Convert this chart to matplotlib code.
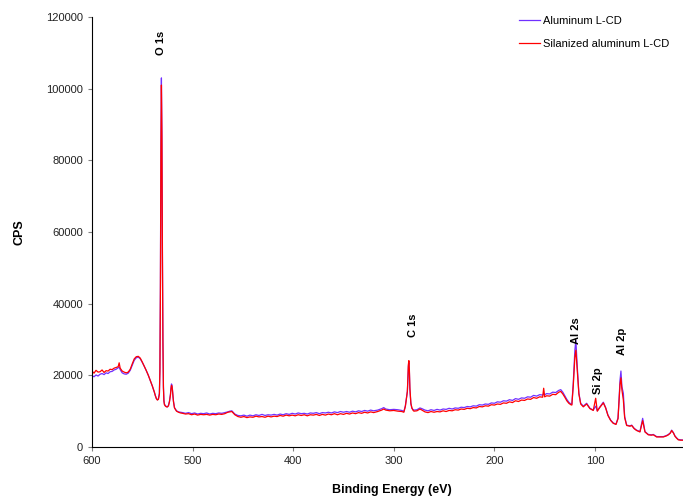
import matplotlib
matplotlib.use("Agg")
import matplotlib.pyplot as plt

plt.rcParams['font.family'] = ['Liberation Sans', 'DejaVu Sans']

# Binding energy (eV) and counts
energia = [
    600, 598, 596, 594, 592, 590, 588, 586, 584, 582, 580, 578, 576, 574,
    573, 572, 570, 568, 566, 564, 562, 560, 558, 556, 554, 552, 550, 548,
    546, 544, 542, 540, 538, 537, 536, 535, 534, 533, 532.5, 532, 531.5, 531, 530.5,
    530, 529.5, 529, 528.5, 528, 527, 526, 525, 524, 523, 522, 521.5, 521, 520.5, 520, 519.5, 519, 518,
    516, 514, 512, 510, 507, 504, 501, 498, 495, 492, 489, 486, 483, 480, 477, 474, 471, 468,
    465, 463, 461, 458, 455, 452, 449, 446, 443, 440, 437, 434, 431, 428, 425, 422, 419,
    416, 413, 410, 407, 404, 401, 398, 395, 392, 389, 386, 383, 380, 377, 374, 371, 368,
    365, 362, 359, 356, 353, 350, 347, 344, 341, 338, 335, 332, 329, 326, 323, 320,
    316, 312, 310, 308, 304, 300, 296, 292, 290, 288.5, 287.5, 286.5, 286, 285.5, 285, 284.5, 284, 283, 282, 281,
    280, 277, 274, 272, 269, 266, 263, 260, 257, 254, 251, 248, 245, 242, 239, 236, 233, 230,
    227, 224, 221, 218, 215, 212, 209, 206, 203, 200,
    197, 194, 191, 188, 185, 182, 179, 176, 173, 170, 167, 164, 161, 158, 155,
    152, 151, 150, 148, 145, 142, 139, 136, 134, 132, 130, 128, 126, 124, 123,
    121.6, 120, 119, 117.6, 116, 114.2, 111.6, 108.3, 105, 101.7, 99.3, 97.7, 95, 91.7, 89.4, 87.1, 84.4, 81.8, 79.1,
    77.1, 76.1, 75.1, 74.2, 73.2, 71.8, 70.5, 68.5, 65.2, 63.5, 61, 58.6, 55.3, 52.6, 50.3, 47, 44, 42, 38.7,
    35, 32, 29, 27, 25, 23.8, 22, 20.5, 19, 17.2, 15, 12.8,
]

aluminio = [
    19900, 19600, 20100, 19800, 20300, 20500, 20200, 20700, 20500, 21000, 21100, 21500, 21700, 22100,
    22300, 21600, 20700, 20400, 20300, 20600, 21400, 22800, 24200, 24900, 25100, 24600, 23600, 22500,
    21300, 20000, 18500, 17000, 15300, 14300, 13500, 13200, 13400, 15000, 22000, 45000, 85000, 103000, 88000,
    55000, 30000, 17000, 13000, 12000, 11500, 11300, 11200, 11600, 12800, 14800, 16500, 17600, 17300, 16000, 14200, 12800, 11000,
    10100, 9800, 9700, 9600, 9400, 9600, 9300, 9500, 9200, 9400, 9300, 9500, 9200, 9400, 9300, 9500, 9400, 9600,
    9800, 10000, 10100, 9200, 8800, 8700, 8900, 8600, 8900, 8700, 9000, 8800, 9100, 8800, 9000, 8900, 9100,
    8900, 9200, 9000, 9300, 9100, 9400, 9200, 9500, 9300, 9400, 9200, 9500, 9400, 9600, 9300, 9600, 9500,
    9700, 9500, 9800, 9600, 9900, 9700, 9900, 9700, 10000, 9800, 10100, 9900, 10200, 10000, 10300, 10100,
    10300, 10700, 11000, 10600, 10400, 10500, 10400, 10200, 9900, 11500, 13500, 15500, 18500, 22500, 23500, 21000, 16000, 12000, 10800, 10500,
    10300, 10400, 10900, 10700, 10300, 10100, 10400, 10200, 10500, 10300, 10600, 10500, 10800, 10600, 10900, 10800, 11100, 11000,
    11300, 11200, 11500, 11400, 11800, 11700, 12000, 11900, 12300, 12200,
    12600, 12500, 12900, 12800, 13200, 13000, 13500, 13300, 13700, 13600, 14000, 13900, 14400, 14200, 14600,
    14500, 14800, 14600, 14900, 14800, 15300, 15200, 15800, 16000, 15300, 14300, 13300, 12500, 12000, 11900,
    17800, 27000, 29700, 22400, 15000, 12200, 11400, 12200, 10800, 10300, 11400, 10100, 11250, 12500, 11000, 8900, 7500, 6700, 6400,
    8100, 13100, 18700, 21200, 16800, 15000, 8500, 6100, 5900, 6100, 5200, 4700, 4300, 8000, 4300, 3500, 3400, 3500, 2900,
    2900, 2900, 3200, 3500, 4000, 4700, 4000, 3100, 2600, 2100, 2000, 1950,
]

silanizado = [
    21200, 20600, 21400, 20900, 21000, 21500, 20800, 21300, 21200, 21700, 21600, 22000, 22200, 22400,
    23500, 22000, 21200, 20900, 20700, 20900, 21700, 23200, 24600, 25200, 25300, 24800, 23700, 22500,
    21300, 20000, 18500, 17000, 15300, 14300, 13500, 13100, 13300, 14800, 21000, 43000, 82000, 101000, 86000,
    53000, 29000, 16500, 12800, 11800, 11400, 11200, 11200, 11500, 12600, 14500, 16200, 17200, 17000, 15700, 14000, 12600, 10900,
    10000, 9700, 9500, 9400, 9200, 9300, 9000, 9200, 8900, 9100, 9000, 9100, 8900, 9100, 9000, 9200, 9100, 9300,
    9700, 9800, 9900, 9000, 8500, 8300, 8500, 8200, 8400, 8300, 8600, 8400, 8500, 8300, 8600, 8400, 8600,
    8500, 8800, 8600, 8900, 8700, 8900, 8700, 9000, 8800, 9000, 8700, 9000, 8900, 9100, 8800, 9100, 8900,
    9200, 9000, 9300, 9000, 9300, 9100, 9400, 9200, 9500, 9300, 9600, 9400, 9700, 9500, 9800, 9600,
    9900, 10300, 10600, 10300, 10100, 10200, 10000, 9900, 9700, 11300, 13300, 15500, 19000, 23000, 24100, 21500, 16500, 12200, 10900, 10300,
    10000, 10100, 10600, 10300, 9800, 9600, 9900, 9700, 9900, 9800, 10100, 9900, 10200, 10100, 10400, 10300, 10600, 10500,
    10800, 10700, 11000, 10900, 11300, 11200, 11500, 11400, 11800, 11700,
    12000, 11900, 12300, 12200, 12600, 12400, 12900, 12700, 13100, 13000, 13400, 13300, 13800, 13600, 14000,
    13900, 16400, 14000, 14300, 14200, 14700, 14600, 15300, 15500, 14800, 13900, 12900, 12200, 11800, 11700,
    17000, 25000, 27000, 21500, 14800, 12000, 11200, 12000, 10700, 10200, 13600, 10000, 11100, 12300, 10900, 8800, 7400, 6600, 6300,
    7900, 12500, 17500, 19300, 15900, 13100, 8200, 6000, 5800, 6000, 5100, 4600, 4200, 7350, 4200, 3400, 3300, 3400, 2800,
    2800, 2800, 3100, 3400, 3900, 4600, 3900, 3000, 2500, 2000, 1900, 1900,
]

assert len(energia) == len(aluminio) == len(silanizado)

picos = ["O 1s", "C 1s", "Al 2s", "Si 2p", "Al 2p"]
picos_x = [531, 281, 119, 97, 73]
picos_y = [112700, 34000, 32400, 18400, 29600]

fig = plt.figure(figsize=(6.83, 4.98), dpi=100)
ax = fig.add_axes([92 / 683, 51 / 498, 591 / 683, 430 / 498])

ax.plot(energia, aluminio, color="#7030FF", lw=0.9, label="Aluminum L-CD")
ax.plot(energia, silanizado, color="#FF0000", lw=0.9, label="Silanized aluminum L-CD")

for txt, px, py in zip(picos, picos_x, picos_y):
    ax.text(px, py, txt, rotation=90, ha='center', va='center',
            fontsize=8, fontweight='bold')

ax.set_xlim(600, 12.5)
ax.set_ylim(0, 120000)
ax.set_xticks([600, 500, 400, 300, 200, 100])
ax.set_yticks(range(0, 120001, 20000))
ax.spines['top'].set_visible(False)
ax.spines['right'].set_visible(False)
ax.tick_params(axis='both', labelsize=8, length=3, color='#808080', labelcolor='#222222')

ax.set_xlabel("Binding Energy (eV)", fontsize=9, fontweight='bold')
ax.set_ylabel("CPS", fontsize=9, fontweight='bold')
ax.xaxis.set_label_coords(0.508, -0.085)
ax.yaxis.set_label_coords(-0.112, 0.5)

ax.legend(loc='upper left', bbox_to_anchor=(519 / 683, 1 - 16 / 498),
          bbox_transform=fig.transFigure, frameon=False, fontsize=8,
          handlelength=1.9, handletextpad=0.3, labelspacing=1.2,
          borderpad=0, borderaxespad=0)

plt.savefig("out.png", dpi=100)
